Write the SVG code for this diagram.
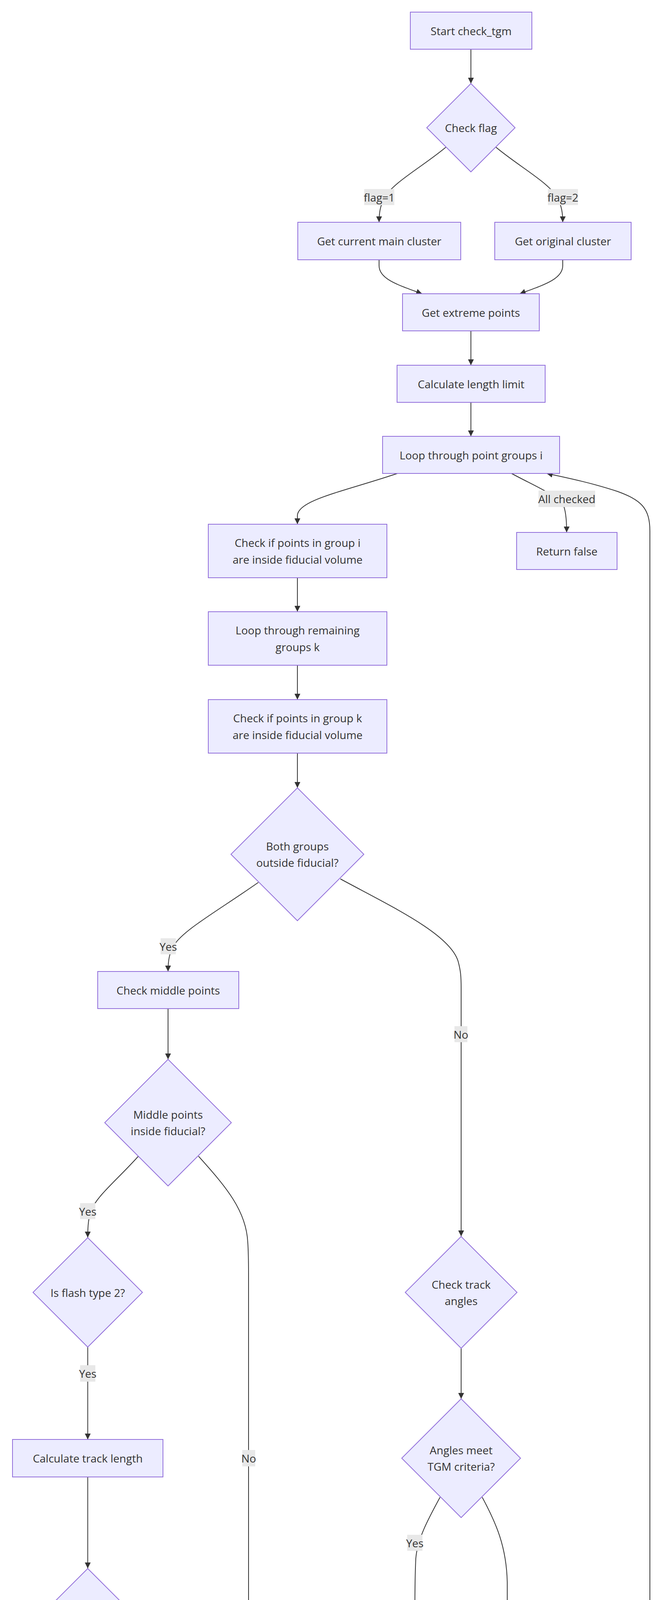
<svg xmlns="http://www.w3.org/2000/svg" width="1694" height="5130" viewBox="0 0 1694 5130">
<style>
.node rect,.node polygon{fill:#ECECFF;stroke:#9370DB;stroke-width:2}
.node text,.lbl text{font-family:"Open Sans","Noto Sans",sans-serif;font-size:28px;fill:#333;text-anchor:middle;dominant-baseline:central}
.edge{fill:none;stroke:#333;stroke-width:2;marker-end:url(#arrow)}
.lbl rect{fill:#E8E8E8}
.credit{font-family:"Open Sans",sans-serif;font-size:14px;fill:#aaa}
</style>
<defs>
<marker id="arrow" viewBox="0 0 10 10" refX="10" refY="5" markerWidth="15" markerHeight="15" markerUnits="userSpaceOnUse" orient="auto"><path d="M0,0 L10,5 L0,10 z" fill="#333"/></marker>
</defs>
<rect width="1694" height="5130" fill="#fff"/>
<g id="connectors">
<path class="edge" d="M1205,126 L1205,214"/>
<path class="edge" d="M1142,376 C1080,428 1000,470 982,510 C973,528 970,545 970,569"/>
<path class="edge" d="M1268,376 C1330,428 1410,470 1428,510 C1437,528 1440,545 1440,569"/>
<path class="edge" d="M970,665 L970,680 C970,715 1020,730 1080,752"/>
<path class="edge" d="M1440,665 L1440,680 C1440,715 1390,730 1330,752"/>
<path class="edge" d="M1205,847 L1205,935"/>
<path class="edge" d="M1205,1030 L1205,1117"/>
<path class="edge" d="M1017,1212 C880,1258 762,1280 761,1320 L761,1342"/>
<path class="edge" d="M1309,1212 C1360,1240 1420,1265 1440,1290 C1448,1305 1450,1330 1450,1363"/>
<path class="edge" d="M761,1479 L761,1566"/>
<path class="edge" d="M761,1703 L761,1791"/>
<path class="edge" d="M761,1928 L761,2017"/>
<path class="edge" d="M661,2259 C560,2330 470,2380 445,2420 C433,2440 430,2460 430,2487"/>
<path class="edge" d="M871,2250 C1000,2320 1150,2390 1172,2460 C1179,2485 1180,2500 1180,2530 L1180,3165"/>
<path class="edge" d="M430,2582 L430,2712"/>
<path class="edge" d="M354,2960 C300,3020 250,3060 235,3095 C226,3115 224.5,3140 224.5,3168"/>
<path class="edge" d="M508,2960 C580,3040 630,3100 634,3180 C636,3210 636,3230 636,3260 L636,4508"/>
<path class="edge" d="M224.5,3448 L224.5,3685"/>
<path class="edge" d="M224.5,3781 L224.5,4015"/>
<path class="edge" d="M224.5,4377 L224.5,4560"/>
<path class="edge" d="M208,4815 C198,4870 200,4920 240,4955 C275,4985 320,5000 347,5013"/>
<path class="edge" d="M280,4778 C320,4845 370,4890 470,4935 C600,4990 850,5015 1026,5036"/>
<path class="edge" d="M562,4810 C520,4870 480,4920 470,4960 L467.5,5013"/>
<path class="edge" d="M715,4807 C750,4860 790,4910 860,4940 C920,4968 980,4995 1032,5013"/>
<path class="edge" d="M1001,4785 C960,4850 900,4910 820,4948 C740,4985 650,5010 591,5025"/>
<path class="edge" d="M1102,4807 C1125,4870 1150,4935 1177,5013"/>
<path class="edge" d="M1180,3451 L1180,3581"/>
<path class="edge" d="M1126,3833 C1095,3890 1068,3940 1064,3990 C1062,4030 1061.5,4080 1061.5,4149"/>
<path class="edge" d="M1234,3833 C1270,3900 1296,3960 1298,4050 L1298,4800 C1298,4920 1280,4970 1245,5013"/>
<path class="edge" d="M1061.5,4244 L1061.5,4546"/>
<path class="edge" d="M1363,5021 C1500,4990 1620,4960 1650,4880 C1662,4840 1663,4800 1663,4760 L1663,1360 C1663,1300 1640,1280 1580,1258 C1520,1238 1460,1225 1399,1212"/>
</g>
<g id="edge-labels">
<g class="lbl"><rect x="932" y="484" width="77" height="41"/><text x="970.5" y="504.5">flag=1</text></g>
<g class="lbl"><rect x="1402" y="484" width="77" height="41"/><text x="1440.5" y="504.5">flag=2</text></g>
<g class="lbl"><rect x="1378" y="1256" width="145" height="42"/><text x="1450.5" y="1277">All checked</text></g>
<g class="lbl"><rect x="411" y="2402" width="39" height="41"/><text x="430.5" y="2422.5">Yes</text></g>
<g class="lbl"><rect x="1163" y="2627" width="33" height="41"/><text x="1179.5" y="2647.5">No</text></g>
<g class="lbl"><rect x="205" y="3080" width="39" height="41"/><text x="224.5" y="3100.5">Yes</text></g>
<g class="lbl"><rect x="620" y="3712" width="33" height="42"/><text x="636.5" y="3733">No</text></g>
<g class="lbl"><rect x="205" y="3495" width="39" height="42"/><text x="224.5" y="3516">Yes</text></g>
<g class="lbl"><rect x="1042" y="3929" width="39" height="41"/><text x="1061.5" y="3949.5">Yes</text></g>
<g class="lbl"><rect x="205" y="4422" width="39" height="42"/><text x="224.5" y="4443">Yes</text></g>
<g class="lbl"><rect x="1281" y="4422" width="33" height="42"/><text x="1297.5" y="4443">No</text></g>
<g class="lbl"><rect x="172" y="4928" width="33" height="41"/><text x="188.5" y="4948.5">No</text></g>
<g class="lbl"><rect x="374" y="4928" width="39" height="41"/><text x="393.5" y="4948.5">Yes</text></g>
<g class="lbl"><rect x="448" y="4928" width="39" height="41"/><text x="467.5" y="4948.5">Yes</text></g>
<g class="lbl"><rect x="797" y="4928" width="33" height="41"/><text x="813.5" y="4948.5">No</text></g>
<g class="lbl"><rect x="865" y="4928" width="39" height="41"/><text x="884.5" y="4948.5">Yes</text></g>
<g class="lbl"><rect x="1138" y="4928" width="33" height="41"/><text x="1154.5" y="4948.5">No</text></g>
</g>
<g id="start" class="node"><rect x="1050" y="31" width="311" height="95"/><text x="1205.5" y="78.5">Start check_tgm</text></g>
<g id="flag" class="node"><polygon points="1205,214 1318,327 1205,440 1092,327"/><text x="1205" y="327">Check flag</text></g>
<g id="curMain" class="node"><rect x="762" y="569" width="417" height="96"/><text x="970.5" y="617">Get current main cluster</text></g>
<g id="orig" class="node"><rect x="1266" y="569" width="349" height="96"/><text x="1440.5" y="617">Get original cluster</text></g>
<g id="extreme" class="node"><rect x="1030" y="752" width="350" height="95"/><text x="1205" y="799.5">Get extreme points</text></g>
<g id="calcLimit" class="node"><rect x="1016" y="935" width="379" height="95"/><text x="1205.5" y="982.5">Calculate length limit</text></g>
<g id="loopI" class="node"><rect x="979" y="1117" width="453" height="95"/><text x="1205.5" y="1164.5">Loop through point groups i</text></g>
<g id="checkI" class="node"><rect x="533" y="1342" width="457" height="137"/><text x="761.5" y="1389">Check if points in group i</text><text x="761.5" y="1432">are inside fiducial volume</text></g>
<g id="retFalse" class="node"><rect x="1322" y="1363" width="257" height="95"/><text x="1450.5" y="1410.5">Return false</text></g>
<g id="loopK" class="node"><rect x="533" y="1566" width="457" height="137"/><text x="761.5" y="1613">Loop through remaining</text><text x="761.5" y="1656">groups k</text></g>
<g id="checkK" class="node"><rect x="533" y="1791" width="457" height="137"/><text x="761.5" y="1838">Check if points in group k</text><text x="761.5" y="1881">are inside fiducial volume</text></g>
<g id="both" class="node"><polygon points="761,2017 931,2187 761,2357 591,2187"/><text x="761" y="2166">Both groups</text><text x="761" y="2208">outside fiducial?</text></g>
<g id="middlePts" class="node"><rect x="250" y="2487" width="361" height="95"/><text x="430.5" y="2534.5">Check middle points</text></g>
<g id="midInside" class="node"><polygon points="430,2712 592,2874 430,3036 268,2874"/><text x="430" y="2853">Middle points</text><text x="430" y="2895">inside fiducial?</text></g>
<g id="flash" class="node"><polygon points="224.5,3168.5 364.5,3308.5 224.5,3448.5 84.5,3308.5"/><text x="224.5" y="3308.5">Is flash type 2?</text></g>
<g id="calcTrack" class="node"><rect x="32" y="3685" width="385" height="96"/><text x="224.5" y="3733">Calculate track length</text></g>
<g id="lenCheck" class="node"><polygon points="224.5,4015.5 405.5,4196.5 224.5,4377.5 43.5,4196.5"/><text x="224.5" y="4196.5">Length &gt; 0.45 * limit?</text></g>
<g id="neutrino" class="node"><polygon points="224.5,4560 360.5,4696 224.5,4832 88.5,4696"/><text x="224.5" y="4675">Is neutrino</text><text x="224.5" y="4717">candidate?</text></g>
<g id="trackMeets" class="node"><polygon points="636.5,4508 824.5,4696 636.5,4884 448.5,4696"/><text x="636.5" y="4675">Track length meets</text><text x="636.5" y="4717">minimum?</text></g>
<g id="retTrue" class="node"><rect x="341" y="5013.5" width="250" height="95"/><text x="466" y="5061">Return true</text></g>
<g id="angles" class="node"><polygon points="1180,3165.5 1323,3308.5 1180,3451.5 1037,3308.5"/><text x="1180" y="3287.5">Check track</text><text x="1180" y="3329.5">angles</text></g>
<g id="anglesMeet" class="node"><polygon points="1180,3581 1332,3733 1180,3885 1028,3733"/><text x="1180" y="3712">Angles meet</text><text x="1180" y="3754">TGM criteria?</text></g>
<g id="checkDead" class="node"><rect x="886.5" y="4149" width="350" height="95"/><text x="1061.5" y="4196.5">Check dead regions</text></g>
<g id="deadMet" class="node"><polygon points="1061.5,4546 1211.5,4696 1061.5,4846 911.5,4696"/><text x="1061.5" y="4675">Dead region</text><text x="1061.5" y="4717">criteria met?</text></g>
<g id="cont" class="node"><rect x="1026.5" y="5013.5" width="337" height="95"/><text x="1195" y="5061">Continue checking</text></g>
<text class="credit" x="17" y="5126">Created with MarkChart.app</text>
</svg>
